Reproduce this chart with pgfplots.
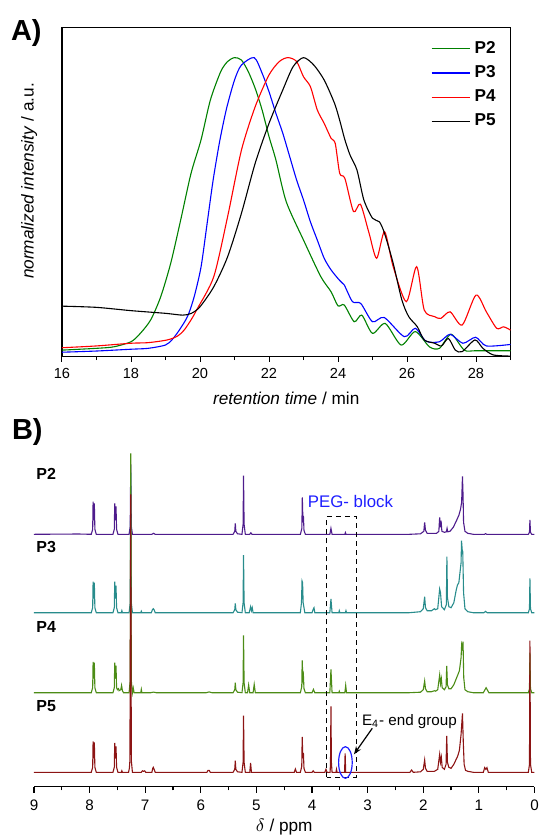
\documentclass[border=0pt]{standalone}
\usepackage{pgfplots}
\usepackage{pgfplotstable}
\pgfplotsset{compat=1.18}
\usepackage{fontspec}
\setmainfont{Liberation Sans}
\usetikzlibrary{arrows.meta}

\definecolor{gA}{RGB}{0,128,0}
\definecolor{bA}{RGB}{0,0,255}
\definecolor{rA}{RGB}{255,0,0}
\definecolor{cPtwo}{RGB}{78,28,140}
\definecolor{cPthree}{RGB}{40,140,140}
\definecolor{cPfour}{RGB}{76,140,22}
\definecolor{cPfive}{RGB}{140,20,20}
\definecolor{pegblue}{RGB}{30,30,255}

% GPC traces (retention time / min, normalized intensity)
\pgfplotstableread{
t     y
16.0  0.022
17.0  0.028
17.5  0.033
18.0  0.050
18.27 0.078
18.57 0.123
18.86 0.200
19.15 0.312
19.44 0.457
19.74 0.613
20.03 0.725
20.3  0.858
20.6  0.953
20.8  0.987
21.0  1.000
21.2  0.992
21.4  0.953
21.6  0.897
21.8  0.825
22.0  0.736
22.2  0.658
22.5  0.518
23.0  0.390
23.5  0.268
23.8  0.217
24.0  0.170
24.18 0.173
24.47 0.117
24.69 0.139
25.0  0.078
25.37 0.111
25.83 0.039
26.24 0.084
26.65 0.033
26.94 0.028
27.28 0.075
27.66 0.022
28.0  0.020
29.0  0.020
}\gpcPtwo
\pgfplotstableread{
t     y
16.0  0.015
17.0  0.019
18.0  0.025
18.5  0.028
19.0  0.039
19.2  0.058
19.4  0.089
19.64 0.135
19.83 0.200
20.03 0.300
20.2  0.440
20.38 0.590
20.57 0.720
20.77 0.830
21.0  0.925
21.2  0.975
21.57 1.000
21.8  0.948
22.0  0.886
22.2  0.814
22.4  0.747
22.6  0.669
22.8  0.591
23.0  0.524
23.2  0.451
23.4  0.390
23.6  0.329
23.8  0.290
24.04 0.256
24.18 0.240
24.42 0.184
24.66 0.178
25.0  0.117
25.34 0.131
25.92 0.067
26.24 0.095
26.55 0.052
26.94 0.050
27.25 0.075
27.62 0.045
27.99 0.065
28.3  0.036
29.0  0.041
}\gpcPthree
\pgfplotstableread{
t     y
16.0  0.030
17.0  0.036
18.0  0.045
18.5  0.047
19.05 0.056
19.35 0.069
19.54 0.089
19.74 0.123
19.93 0.162
20.4  0.268
20.8  0.468
21.2  0.690
21.6  0.836
22.0  0.942
22.3  0.987
22.55 1.000
22.8  0.987
23.0  0.936
23.2  0.903
23.4  0.825
23.6  0.780
23.8  0.730
23.92 0.713
24.05 0.613
24.2  0.596
24.45 0.485
24.65 0.510
24.9  0.413
25.12 0.329
25.35 0.418
25.6  0.301
25.98 0.184
26.28 0.301
26.5  0.156
26.8  0.134
26.98 0.128
27.25 0.150
27.6  0.106
28.0  0.206
28.3  0.150
28.6  0.095
28.8  0.100
29.0  0.089
}\gpcPfour
\pgfplotstableread{
t     y
16.0  0.169
17.0  0.165
18.0  0.154
19.0  0.145
19.5  0.139
19.75 0.145
20.0  0.167
20.4  0.234
20.8  0.334
21.2  0.479
21.6  0.647
22.0  0.780
22.4  0.892
22.7  0.970
23.0  1.000
23.3  0.975
23.6  0.925
23.9  0.847
24.05 0.790
24.2  0.725
24.35 0.674
24.55 0.624
24.75 0.524
25.0  0.463
25.2  0.451
25.35 0.412
25.6  0.312
25.85 0.190
26.05 0.134
26.3  0.100
26.5  0.056
26.8  0.045
27.0  0.036
27.2  0.061
27.4  0.022
27.6  0.017
27.97 0.056
28.2  0.028
28.5  0.006
29.0  0.002
}\gpcPfive

% 1H NMR spectra (ppm, intensity above own baseline)
\pgfplotstableread{
ppm   h
9.00  0
8.20  0.3
7.97  0
7.945 5
7.937 32.7
7.925 14
7.915 31
7.905 5
7.88  0
7.58  0
7.556 5
7.548 31
7.535 14
7.525 28
7.515 5
7.49  0
7.29  0
7.27  8
7.26  70
7.25  8
7.23  0
6.88  0
6.85  1
6.82  0
5.42  0
5.39  3
5.38  11
5.37  3
5.34  0.5
5.26  0
5.24  10
5.232 58.7
5.222 10
5.20  0
5.12  0
5.10  1.5
5.08  0
4.21  0
4.183 6
4.175 37
4.163 12
4.155 18.3
4.145 4
4.12  0
3.68  0
3.66  6
3.64  0
3.41  0
3.40  1.7
3.39  0
2.25  0
2.05  0.5
1.99  3
1.975 12
1.96  4
1.93  1
1.76  1
1.72  3
1.705 17
1.69  7
1.68  13.7
1.665 3
1.62  2
1.585 2.5
1.572 6
1.56  2.5
1.52  3
1.46  7
1.40  14
1.36  19
1.33  25
1.31  32
1.295 58
1.285 40
1.275 12
1.25  3
1.20  1
1.10  0
0.90  0
0.88  0.6
0.86  0
0.11  0
0.09  2
0.082 14.3
0.072 2
0.05  0
0.00  0
}\nmrPtwo
\pgfplotstableread{
ppm   h
9.00  0
7.97  0
7.945 5
7.937 31
7.925 14
7.915 30
7.905 5
7.88  0
7.58  0
7.556 5
7.548 31
7.535 14
7.525 27
7.515 5
7.49  0
7.43  0
7.42  2
7.41  0
7.29  0
7.27  10
7.26  140
7.25  10
7.23  0
7.08  0
7.07  1.5
7.06  0
6.89  0
6.87  3
6.855 4
6.84  3
6.82  0
5.42  0
5.39  3
5.38  9.3
5.37  3
5.34  0.5
5.26  0
5.24  10
5.232 57.7
5.222 10
5.20  0
5.13  0
5.105 6
5.09  2
5.075 5
5.06  0
4.21  0
4.19  10
4.18  31.7
4.17  30
4.16  10
4.13  0
4.00  0
3.975 4
3.965 5
3.95  0
3.68  0
3.66  13.7
3.64  0
3.52  0
3.51  2
3.50  0
3.40  0
3.39  2
3.38  0
2.25  0
2.05  1
2.00  4
1.975 16
1.96  5
1.93  2
1.85  2
1.80  4
1.78  3
1.74  4
1.705 23.7
1.69  20
1.67  6
1.62  3
1.585 8
1.575 56
1.565 15
1.54  6
1.50  5
1.45  10
1.41  22
1.385 27.7
1.36  30
1.32  50
1.312 72
1.30  63
1.29  61
1.275 20
1.25  4
1.20  1
1.10  0
0.91  0
0.88  1.3
0.85  0
0.11  0
0.09  4
0.082 34.3
0.072 4
0.05  0
0.00  0
}\nmrPthree
\pgfplotstableread{
ppm   h
9.00  0
7.97  0
7.945 5
7.937 30.7
7.925 14
7.915 30
7.905 5
7.88  0
7.58  0
7.556 5
7.548 30
7.535 14
7.525 27
7.515 5
7.50  3
7.48  4
7.47  2
7.44  3
7.425 7.3
7.41  2
7.39  0
7.29  0
7.27  12
7.26  239.4
7.25  12
7.23  0
7.215 4.7
7.20  0
7.08  0
7.07  3.3
7.06  0
6.90  0
6.85  0.6
6.80  0
5.90  0
5.85  0.8
5.80  0
5.42  0
5.39  3
5.38  10
5.37  3
5.34  0.5
5.26  0
5.24  10
5.232 57.3
5.222 10
5.20  0
5.16  0
5.14  7.7
5.12  0
5.06  0
5.04  8.3
5.02  0
4.21  0
4.185 6
4.177 32.3
4.165 14
4.155 17
4.145 4
4.12  0
4.00  0
3.975 3.3
3.95  0
3.68  0
3.66  23.3
3.64  0
3.52  0
3.51  1.5
3.50  0
3.41  0
3.395 7.3
3.38  0
2.25  0
2.05  0.5
2.00  3
1.975 11.7
1.96  4
1.93  1
1.85  1
1.80  2
1.78  1.5
1.74  3
1.705 17.7
1.69  9
1.675 14
1.66  5
1.62  3
1.59  6
1.578 26.7
1.565 8
1.54  4
1.50  4
1.45  8
1.40  15
1.38  17.7
1.35  22
1.32  35
1.31  47.7
1.30  45
1.285 51
1.272 15
1.25  3
1.20  1
1.10  0
0.92  0
0.89  3
0.87  5
0.85  3
0.82  0
0.11  0
0.09  4
0.082 40
0.072 4
0.05  0
0.00  0
}\nmrPfour
\pgfplotstableread{
ppm   h
9.00  0
7.97  0
7.945 5
7.937 31
7.925 14
7.915 30
7.905 5
7.88  0
7.58  0
7.556 5
7.548 29.3
7.535 14
7.525 26
7.515 5
7.49  0
7.43  0
7.42  1.5
7.41  0
7.30  0
7.285 4
7.275 12
7.26  278
7.25  12
7.23  0
7.07  0
7.05  1.5
7.03  1
7.01  1.5
6.99  0
6.88  0
6.865 4
6.855 5
6.84  3
6.82  0
5.89  0
5.87  2
5.85  2
5.83  0
5.42  0
5.39  3
5.38  11.7
5.37  3
5.34  0.5
5.26  0
5.24  10
5.232 56.7
5.222 10
5.20  0
5.12  0
5.105 9.3
5.09  0
4.32  0
4.30  3.3
4.28  0
4.21  0
4.185 6
4.177 35.3
4.165 14
4.155 19.3
4.145 4
4.12  0
4.00  0
3.98  1.5
3.96  0
3.77  0
3.75  3
3.73  0
3.675 0
3.668 10
3.66  66
3.652 10
3.64  0
3.57  0
3.56  3
3.55  0
3.415 0
3.405 19
3.395 0
2.24  0
2.21  2.3
2.18  0
2.05  0.5
2.00  3
1.975 12.3
1.96  4
1.93  1
1.80  1
1.74  3
1.705 18
1.69  10
1.675 15
1.66  5
1.62  3
1.59  8
1.578 36.3
1.565 10
1.54  5
1.50  4
1.45  8
1.40  14
1.38  16.3
1.35  22
1.32  38
1.295 59
1.28  30
1.265 8
1.24  2
1.20  1
1.10  0
0.92  0
0.895 4.7
0.875 3
0.855 4.7
0.83  0
0.11  0
0.09  8
0.082 131.6
0.072 8
0.05  0
0.00  0
}\nmrPfive

\begin{document}
\begin{tikzpicture}
\useasboundingbox (0pt,0pt) rectangle (269.5pt,-417.5pt);

% ---------- panel A ----------
\begin{axis}[
    at={(31pt,-178.35pt)}, anchor=south west,
    scale only axis, width=224.25pt, height=164.5pt,
    xmin=16, xmax=29, ymin=0, ymax=1.1,
    xtick={16,18,...,28}, minor xtick={17,19,...,29},
    ytick=\empty, xtick pos=bottom, tick align=outside,
    major tick length=2.5pt, minor tick length=1.7pt,
    tick style={black, line width=0.5pt},
    axis line style={line width=0.6pt},
    /pgf/number format/assume math mode=true,
    ticklabel style={font=\fontsize{7.3}{9}\selectfont},
    xlabel={\textit{retention time} / min},
    ylabel={\textit{normalized intensity} / a.u.},
    label style={font=\fontsize{8.6}{10}\selectfont},
    xlabel style={at={(axis description cs:0.5,-0.1255)}, anchor=center},
    ylabel style={at={(axis description cs:-0.073,0.534)}, anchor=center},
    legend style={at={(0.822,0.972)}, anchor=north west, draw=none, fill=none,
        font=\bfseries\fontsize{8.6}{10}\selectfont, row sep=0.6pt,
        inner sep=0pt},
    legend cell align=left,
    legend image code/.code={\draw[#1, line width=0.55pt] (0pt,0pt) -- (19.2pt,0pt);},
    every axis plot/.append style={line width=0.55pt},
]
\addplot[gA, smooth, tension=0.45] table[x=t, y=y] {\gpcPtwo};
\addlegendentry{P2}
\addplot[bA, smooth, tension=0.45] table[x=t, y=y] {\gpcPthree};
\addlegendentry{P3}
\addplot[rA, smooth, tension=0.45] table[x=t, y=y] {\gpcPfour};
\addlegendentry{P4}
\addplot[black, smooth, tension=0.45] table[x=t, y=y] {\gpcPfive};
\addlegendentry{P5}
\end{axis}
\node[anchor=base west, inner sep=0pt, font=\bfseries\fontsize{14.5}{16}\selectfont]
    at (5.3pt,-20.3pt) {A)};

% ---------- panel B ----------
\begin{axis}[
    at={(17pt,-393.35pt)}, anchor=south west,
    scale only axis, width=250.25pt, height=170pt,
    x dir=reverse, xmin=0, xmax=9, ymin=0, ymax=340,
    axis x line*=bottom, hide y axis, clip=false,
    xtick={0,1,...,9}, minor xtick={0.5,1.5,...,8.5},
    tick align=outside,
    major tick length=3pt, minor tick length=1.8pt,
    tick style={black, line width=0.6pt},
    axis line style={line width=0.7pt},
    /pgf/number format/assume math mode=true,
    ticklabel style={font=\fontsize{7.6}{9}\selectfont},
    xlabel={$\delta$ / ppm},
    label style={font=\fontsize{8.6}{10}\selectfont},
    xlabel style={at={(axis description cs:0.5,-0.12)}, anchor=center},
    every axis plot/.append style={line width=0.55pt},
]
\addplot[cPtwo] table[x=ppm, y expr=\thisrow{h}+252.4] {\nmrPtwo};
\addplot[cPthree] table[x=ppm, y expr=\thisrow{h}+174] {\nmrPthree};
\addplot[cPfour] table[x=ppm, y expr=\thisrow{h}+94] {\nmrPfour};
\addplot[cPfive] table[x=ppm, y expr=\thisrow{h}+14.4] {\nmrPfive};

\draw[black, line width=0.6pt, dash pattern=on 2.5pt off 2pt]
    (axis cs:3.74,9.4) rectangle (axis cs:3.205,270);
\draw[pegblue, line width=0.6pt] (axis cs:3.40,24.2) ellipse [x radius=3.4pt, y radius=7.9pt];
\draw[black, line width=0.6pt, -{Stealth[length=4pt,width=3pt]}]
    (axis cs:2.917,58.4) -- (axis cs:3.246,32.4);
\node[anchor=west, inner sep=0pt, font=\fontsize{7.6}{9}\selectfont]
    at (axis cs:3.108,65) {E\textsubscript{4}- end group};
\node[anchor=west, inner sep=0pt, text=pegblue, font=\fontsize{8.4}{10}\selectfont]
    at (axis cs:4.08,285) {PEG- block};
\end{axis}

\node[anchor=base west, inner sep=0pt, font=\bfseries\fontsize{14.5}{16}\selectfont]
    at (5.8pt,-219.6pt) {B)};
\foreach \lab/\yy in {P2/474, P3/547.3, P4/626.7, P5/706} {
  \node[anchor=west, inner sep=0pt, font=\bfseries\fontsize{8}{10}\selectfont]
      at (18pt,-\yy*0.5pt) {\lab};
}
\end{tikzpicture}
\end{document}
